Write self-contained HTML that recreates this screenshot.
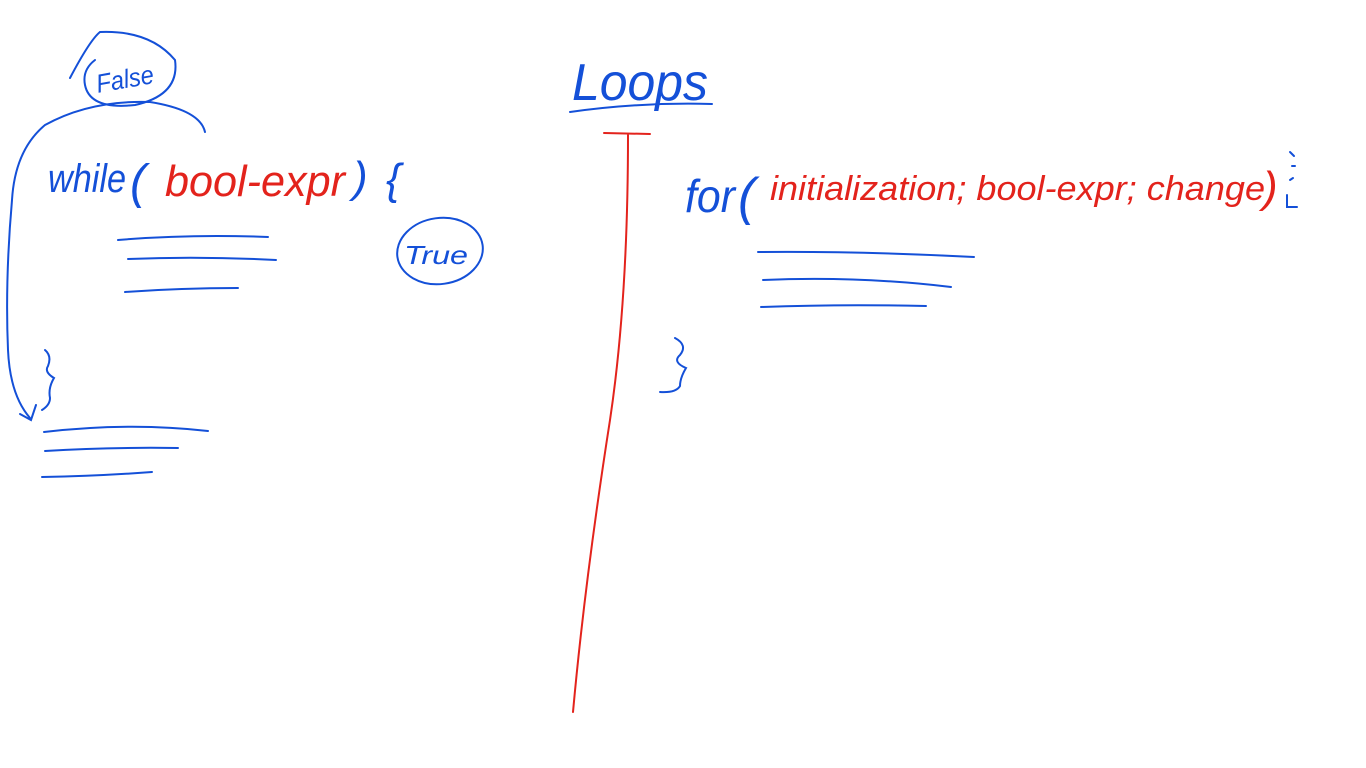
<!DOCTYPE html>
<html><head><meta charset="utf-8"><style>
html,body{margin:0;padding:0;background:#fff;width:1366px;height:768px;overflow:hidden}
svg{display:block}
text{font-family:"Liberation Sans",sans-serif;font-style:italic}
</style></head><body>
<svg width="1366" height="768" viewBox="0 0 1366 768" xmlns="http://www.w3.org/2000/svg">
<g fill="none" stroke="#1450d8" stroke-width="2" stroke-linecap="round">
  <!-- Loops underline -->
  <path d="M570 112 Q640 102 712 104"/>
  <!-- while lines -->
  <path d="M118 240 Q190 234 268 237"/>
  <path d="M128 259 Q200 256 276 260"/>
  <path d="M125 292 Q180 288 238 288"/>
  <!-- after lines -->
  <path d="M44 432 Q130 422 208 431"/>
  <path d="M45 451 Q110 447 178 448"/>
  <path d="M42 477 Q100 476 152 472"/>
  <!-- for lines -->
  <path d="M758 252 Q860 251 974 257"/>
  <path d="M763 280 Q860 276 951 287"/>
  <path d="M761 307 Q840 304 926 306"/>
  <!-- True ellipse -->
  <ellipse cx="440" cy="251" rx="43" ry="33" transform="rotate(-8 440 251)"/>
  <!-- False ellipse -->
  <path d="M70 78 Q90 40 100 32 Q150 30 175 60 Q180 95 135 105 Q90 110 85 85 Q82 70 95 60"/>
  <!-- arrow -->
  <path d="M205 132 Q200 110 150 102 Q90 100 45 125 Q15 150 12 200 Q5 280 8 350 Q10 395 30 418"/>
  <path d="M20 414 L31 420 L36 405"/>
  <!-- braces -->
  <path d="M45 350 Q52 356 48 366 Q44 372 54 378 Q48 388 50 398 Q50 405 42 410"/>
  <path d="M675 338 Q688 345 680 355 Q672 362 686 368 Q680 378 680 386 Q676 393 660 392"/>
  <path d="M1290 152 l4 4 M1292 166 l3 0 M1290 180 l3 -2 M1287 195 l0 12 l10 0"/>
</g>
<!-- red T -->
<g fill="none" stroke="#e3231c" stroke-width="2" stroke-linecap="round">
  <path d="M604 133 L650 134"/>
  <path d="M628 135 Q628 300 610 420 Q585 580 573 712"/>
</g>
<g fill="#1450d8">
  <text x="572" y="100" font-size="52" textLength="136" lengthAdjust="spacingAndGlyphs">Loops</text>
  <text x="48" y="192" font-size="40" textLength="78" lengthAdjust="spacingAndGlyphs">while</text>
  <text x="130" y="198" font-size="48">(</text>
  <text x="353" y="192" font-size="44">)</text>
  <text x="386" y="194" font-size="44">{</text>
  <text x="404" y="264" font-size="26" textLength="64" lengthAdjust="spacingAndGlyphs">True</text>
  <text x="96" y="88" font-size="26" textLength="58" lengthAdjust="spacingAndGlyphs" transform="rotate(-10 125 80)">False</text>
  <text x="685" y="212" font-size="46" textLength="50" lengthAdjust="spacingAndGlyphs">for</text>
  <text x="738" y="214" font-size="52">(</text>
</g>
<g fill="#e3231c">
  <text x="165" y="196" font-size="44" textLength="180" lengthAdjust="spacingAndGlyphs">bool-expr</text>
  <text x="770" y="200" font-size="34" textLength="495" lengthAdjust="spacingAndGlyphs">initialization; bool-expr; change</text>
  <text x="1263" y="202" font-size="44">)</text>
</g>
</svg>
</body></html>
